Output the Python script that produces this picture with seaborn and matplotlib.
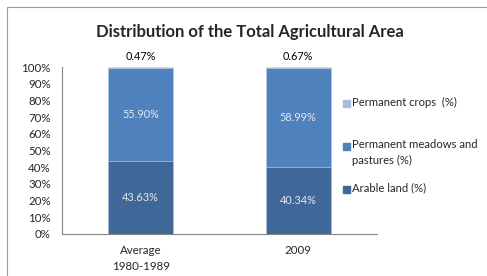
import matplotlib
matplotlib.use("Agg")
import matplotlib.pyplot as plt
import seaborn as sns
import pandas as pd
from matplotlib.patches import Rectangle

categories = ["Average\n1980-1989", "2009"]
arable = [43.63, 40.34]
meadows = [55.90, 58.99]
crops = [0.47, 0.67]
series_labels = ["Permanent crops  (%)", "Permanent meadows and\npastures (%)", "Arable land (%)"]
colors = {"crops": "#A9BCDB", "meadows": "#4F81BD", "arable": "#3F6797"}

sns.set_style("white")
plt.rcParams["font.family"] = ["Lato", "DejaVu Sans"]

W, H = 487, 276
fig = plt.figure(figsize=(W / 100, H / 100), dpi=100)
ax = fig.add_axes([62 / W, 1 - 234 / H, (377 - 62) / W, (234 - 67) / H])

df = pd.DataFrame({"cat": categories, "arable": arable, "meadows": meadows, "crops": crops})
df["total"] = df["arable"] + df["meadows"] + df["crops"]
df["am"] = df["arable"] + df["meadows"]

bw = 0.41
sns.barplot(data=df, x="cat", y="total", color=colors["crops"], width=bw, ax=ax,
            saturation=1, edgecolor="#D0DAEA", linewidth=0.4)
sns.barplot(data=df, x="cat", y="am", color=colors["meadows"], width=bw, ax=ax,
            saturation=1, edgecolor="#D0DAEA", linewidth=0.4)
sns.barplot(data=df, x="cat", y="arable", color=colors["arable"], width=bw, ax=ax,
            saturation=1, edgecolor="#D0DAEA", linewidth=0.4)

ax.set_xlim(-0.5, 1.5)
ax.set_ylim(0, 100)
ax.set_xlabel("")
ax.set_ylabel("")
ax.set_yticks(range(0, 101, 10))
ax.set_yticklabels([f"{v}%" for v in range(0, 101, 10)], fontsize=8.3)
ax.set_xticks([0, 1])
ax.set_xticklabels(categories, fontsize=8.3, linespacing=1.5)
ax.set_xticks([-0.5, 0.5, 1.5], minor=True)
ax.tick_params(axis="x", which="major", length=0, pad=8)
ax.tick_params(axis="x", which="minor", length=4, color="#868686", direction="out")
ax.tick_params(axis="y", length=4, color="#868686", direction="out", pad=4)
ax.grid(False)
for s in ["top", "right"]:
    ax.spines[s].set_visible(False)
for s in ["left", "bottom"]:
    ax.spines[s].set_color("#868686")
    ax.spines[s].set_linewidth(0.8)

for i in range(len(categories)):
    ax.text(i, arable[i] / 2, f"{arable[i]:.2f}%", ha="center", va="center",
            color="#E4EAF3", fontsize=7.8)
    ax.text(i, arable[i] + meadows[i] / 2, f"{meadows[i]:.2f}%", ha="center", va="center",
            color="#E4EAF3", fontsize=7.8)
    ax.text(i, 103, f"{crops[i]:.2f}%", ha="center", va="bottom",
            color="black", fontsize=7.8, clip_on=False)

fig.text(250 / W, 1 - 32 / H, "Distribution of the Total Agricultural Area",
         ha="center", va="center", fontsize=12, fontweight="bold")

# legend
leg = [("crops", series_labels[0], 103), ("meadows", series_labels[1], 146), ("arable", series_labels[2], 189)]
for key, lab, yc in leg:
    fig.patches.append(Rectangle((343 / W, 1 - (yc + 3.5) / H), 7 / W, 7 / H,
                                 transform=fig.transFigure, color=colors[key]))
    fig.text(352 / W, 1 - (yc - 6.5) / H, lab, ha="left", va="top", fontsize=8.1,
             linespacing=1.5)

# chart area border
fig.patches.append(Rectangle((7 / W, -0.1), 1.2, 1 - 7 / H + 0.1,
                             transform=fig.transFigure, fill=False,
                             edgecolor="#9A9A9A", linewidth=0.8))

fig.savefig("out.png", dpi=100)
